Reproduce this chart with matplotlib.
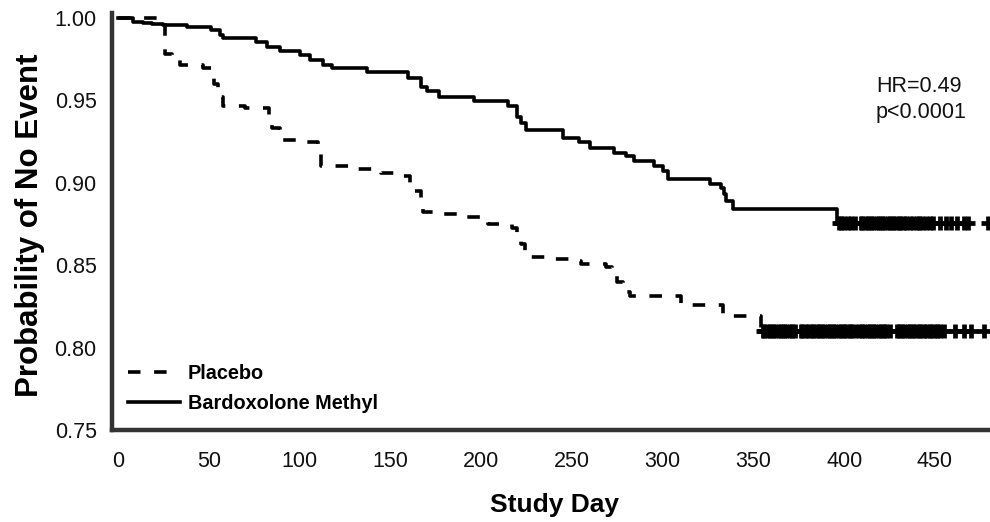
import matplotlib
matplotlib.use("Agg")
import matplotlib.pyplot as plt
from matplotlib.lines import Line2D

plt.rcParams['font.family'] = ['Liberation Sans', 'DejaVu Sans']
plt.rcParams['lines.scale_dashes'] = False

# ---- data ----
bard_times = [0, 8, 14, 19, 25, 38, 51, 56, 58, 76, 82, 89, 100, 106, 113, 118, 137,
              160, 167, 170, 177, 196, 215, 220, 222, 225, 245, 254, 260, 273, 280,
              284, 295, 300, 303, 326, 332, 334, 335, 339, 396]
bard_surv = [1.0, 0.9975, 0.997, 0.9965, 0.9955, 0.9944, 0.9927, 0.9897, 0.9877, 0.9857,
             0.9826, 0.980, 0.9776, 0.9746, 0.9715, 0.9695, 0.9675, 0.9637, 0.958, 0.9554,
             0.9518, 0.9497, 0.9463, 0.940, 0.936, 0.932, 0.9274, 0.925, 0.921, 0.918,
             0.916, 0.913, 0.910, 0.907, 0.9025, 0.8995, 0.897, 0.893, 0.889, 0.884, 0.8757]
bard_censor = [397, 398, 400, 402, 404, 406, 409, 410, 412, 413, 415, 416, 418, 419, 421,
               422, 424, 425, 427, 428, 430, 431, 433, 434, 436, 438, 440, 441, 443, 445,
               447, 449, 453, 456, 459, 462, 466, 468, 479]

plac_times = [0, 26, 30, 34, 47, 53, 55, 58, 70, 83, 85, 89, 100, 110, 112, 128, 140,
              145, 155, 161, 167, 168, 175, 190, 204, 217, 220, 222, 224, 238, 250, 255,
              269, 272, 275, 278, 282, 310, 333, 354]
plac_surv = [1.0, 0.978, 0.9746, 0.9716, 0.9697, 0.960, 0.952, 0.9467, 0.9453, 0.941,
             0.933, 0.926, 0.925, 0.918, 0.910, 0.9086, 0.907, 0.906, 0.904, 0.895, 0.887,
             0.882, 0.881, 0.879, 0.8747, 0.8725, 0.869, 0.8626, 0.8547, 0.8535, 0.8525,
             0.8505, 0.849, 0.846, 0.840, 0.834, 0.831, 0.8257, 0.819, 0.8101]
plac_censor = [355, 356, 358, 359, 361, 362, 364, 365, 367, 368, 370, 371, 373, 376, 377,
               379, 380, 382, 383, 385, 386, 388, 389, 391, 392, 394, 395, 397, 398, 400,
               401, 403, 404, 406, 408, 410, 411, 413, 414, 416, 417, 419, 420, 422, 423,
               425, 429, 430, 432, 433, 435, 436, 438, 439, 441, 442, 444, 445, 447, 448,
               450, 451, 453, 455, 461, 466, 470, 477]

series_labels = ['Placebo', 'Bardoxolone Methyl']
x_ticks = [0, 50, 100, 150, 200, 250, 300, 350, 400, 450]
y_ticks = [0.75, 0.80, 0.85, 0.90, 0.95, 1.00]
annotation = 'HR=0.49\np<0.0001'

# ---- figure ----
fig = plt.figure(figsize=(9.9, 5.22), dpi=100)
ax = fig.add_axes([112/990, (522-430)/522, (990-112)/990, (430-13)/522])

lw = 2.6
dash = (0, (9.0, 9.8))

def km_xy(times, surv, end):
    xs = list(times) + [end]
    ys = list(surv) + [surv[-1]]
    return xs, ys

def surv_at(times, surv, t):
    v = surv[0]
    for ti, si in zip(times, surv):
        if ti <= t:
            v = si
    return v

bx, by = km_xy(bard_times, bard_surv, 468)
ax.step(bx, by, where='post', color='black', lw=lw)
px, py = km_xy(plac_times, plac_surv, 470)
ax.step(px, py, where='post', color='black', lw=lw, linestyle=dash)

ax.plot(bard_censor, [surv_at(bard_times, bard_surv, t) for t in bard_censor],
        linestyle='none', marker='+', ms=10, mew=3.4, color='black')
ax.plot(plac_censor, [surv_at(plac_times, plac_surv, t) for t in plac_censor],
        linestyle='none', marker='+', ms=10, mew=3.4, color='black')

ax.set_xlim(-3.3, 480.3)
ax.set_ylim(0.75, 1.003)
ax.set_xticks(x_ticks)
ax.set_xticklabels([str(v) for v in x_ticks])
ax.set_yticks(y_ticks)
ax.set_yticklabels([f'{v:.2f}' for v in y_ticks])
ax.tick_params(axis='both', length=0, labelsize=15.5, colors='#111111')
ax.tick_params(axis='x', pad=15)
ax.tick_params(axis='y', pad=11)

for s in ['top', 'right']:
    ax.spines[s].set_visible(False)
for s in ['left', 'bottom']:
    ax.spines[s].set_color('#333333')
    ax.spines[s].set_linewidth(3.2)
    ax.spines[s].set_capstyle('projecting')

fig.text(554/990, 1 - 505/522, 'Study Day', ha='center', va='center',
         fontsize=19, fontweight='bold')
fig.text(30/990, 1 - 225/522, 'Probability of No Event', ha='center', va='center',
         rotation=90, fontsize=22.5, fontweight='bold')

fig.text(876/990, 1 - 76/522, annotation, ha='left', va='top', fontsize=15.5,
         linespacing=1.3, color='#111111')

handles = [Line2D([], [], color='black', lw=lw, linestyle=dash),
           Line2D([], [], color='black', lw=lw)]
leg = ax.legend(handles, series_labels, loc='upper left',
                bbox_to_anchor=(128/990, 1 - 364/522), bbox_transform=fig.transFigure,
                frameon=False, prop={'weight': 'bold', 'size': 14.3},
                handlelength=2.6, handletextpad=0.4, labelspacing=0.55,
                borderpad=0, borderaxespad=0)

fig.savefig('out.png', dpi=100)
